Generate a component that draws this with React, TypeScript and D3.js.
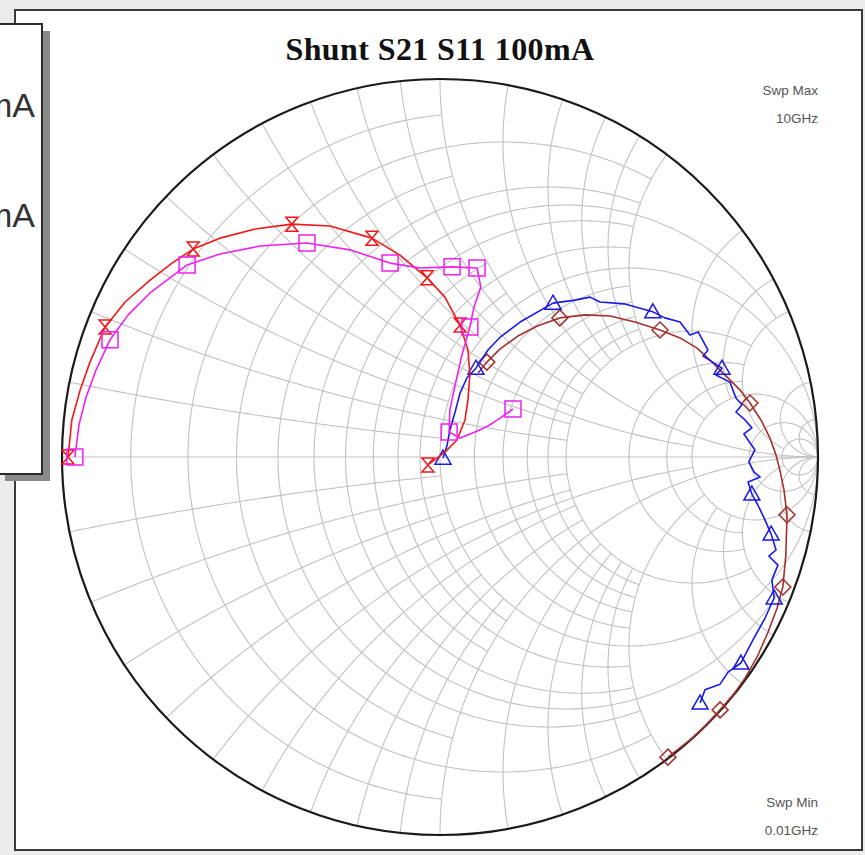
import React from "react";
import * as d3 from "d3";

// ---------- Data (reflection coefficient, real / imaginary) ----------
const redRe = [-0.984,-0.974,-0.952,-0.926,-0.886,-0.833,-0.767,-0.709,-0.653,-0.582,-0.489,-0.392,-0.291,-0.180,-0.106,-0.034,0.013,0.053,0.074,0.079,0.074,0.066,0.045,0.013,-0.032];
const redIm = [0,0.098,0.177,0.251,0.344,0.410,0.468,0.513,0.550,0.579,0.603,0.616,0.611,0.579,0.534,0.474,0.423,0.349,0.283,0.217,0.151,0.098,0.045,0.013,-0.021];
const redMarkers = [0,4,8,11,13,15,17,24];

const magRe = [-0.966,-0.955,-0.937,-0.910,-0.873,-0.825,-0.767,-0.669,-0.582,-0.476,-0.352,-0.238,-0.132,-0.053,0.032,0.098,0.108,0.090,0.079,0.058,0.040,0.026,0.024,0.053,0.093,0.127,0.159,0.193];
const magIm = [0,0.085,0.156,0.230,0.310,0.376,0.434,0.508,0.537,0.558,0.566,0.548,0.513,0.500,0.503,0.500,0.450,0.397,0.344,0.270,0.190,0.124,0.066,0.050,0.066,0.082,0.103,0.127];
const magMarkers = [0,4,7,10,12,14,15,18,22,27];

const blueRe = [0.008,0.019,0.026,0.040,0.053,0.071,0.095,0.127,0.159,0.212,0.299,0.357,0.397,0.423,0.489,0.563,0.595,0.635,0.661,0.683,0.709,0.696,0.746,0.730,0.767,0.783,0.799,0.783,0.807,0.825,0.804,0.815,0.833,0.817,0.831,0.847,0.815,0.825,0.841,0.860,0.876,0.889,0.870,0.894,0.878,0.884,0.860,0.828,0.796,0.762,0.741,0.701,0.688];
const blueIm = [-0.003,0.032,0.071,0.119,0.169,0.209,0.235,0.283,0.317,0.357,0.407,0.415,0.423,0.410,0.405,0.384,0.368,0.357,0.323,0.331,0.283,0.267,0.235,0.217,0.198,0.156,0.138,0.119,0.098,0.077,0.061,0.045,0.019,-0.013,-0.040,-0.053,-0.066,-0.098,-0.127,-0.167,-0.204,-0.246,-0.262,-0.286,-0.325,-0.373,-0.426,-0.484,-0.545,-0.569,-0.601,-0.616,-0.651];
const blueMarkers = [0,6,10,15,22,37,40,45,48,52];

const brownRe = [0.603,0.661,0.701,0.741,0.775,0.807,0.839,0.868,0.892,0.907,0.915,0.918,0.910,0.899,0.889,0.873,0.849,0.820,0.794,0.759,0.720,0.680,0.635,0.582,0.516,0.450,0.384,0.317,0.259,0.206,0.159,0.124,0.101];
const brownIm = [-0.794,-0.749,-0.712,-0.669,-0.630,-0.585,-0.529,-0.463,-0.399,-0.344,-0.259,-0.153,-0.087,-0.034,0.005,0.050,0.098,0.143,0.177,0.212,0.251,0.288,0.315,0.336,0.357,0.373,0.376,0.368,0.347,0.320,0.286,0.251,0.222];
const brownMarkers = [0,3,9,11,17,23,27,31];

// Smith chart grid values and their truncation limits
const resistanceValues = [0.1,0.2,0.3,0.4,0.5,0.6,0.7,0.8,0.9,1,1.2,1.4,1.6,1.8,2,3,4,5,10,20];
const resistanceLimit = [1,2,1,2,5,2,1,2,1,Infinity,2,2,2,2,5,5,5,Infinity,Infinity,Infinity];
const reactanceValues = [0.1,0.2,0.3,0.4,0.5,0.6,0.7,0.8,0.9,1,1.2,1.4,1.6,1.8,2,3,4,5,10,20];
const reactanceLimit = [1,2,1,2,5,2,1,2,1,Infinity,2,2,2,2,5,5,5,20,Infinity,Infinity];

const title = "Shunt S21 S11 100mA";
const legendLabels = ["S21 100mA", "S11 100mA"];
const sweepMax = ["Swp Max", "10GHz"];
const sweepMin = ["Swp Min", "0.01GHz"];

// ---------- Layout ----------
const W = 865, H = 855;
const CX = 440, CY = 457, R = 378;
const xs = d3.scaleLinear().domain([-1, 1]).range([CX - R, CX + R]);
const ys = d3.scaleLinear().domain([-1, 1]).range([CY + R, CY - R]);

function gamma(r: number, x: number): [number, number] {
  const d = (r + 1) * (r + 1) + x * x;
  return [(r * r + x * x - 1) / d, (2 * x) / d];
}

const line = d3.line<[number, number]>().x(d => xs(d[0])).y(d => ys(d[1]));

function resistancePath(r: number, xmax: number) {
  const lim = isFinite(xmax) ? Math.atan(xmax) : Math.PI / 2 - 1e-4;
  const pts: [number, number][] = d3.range(0, 301).map(i => {
    const t = -lim + (2 * lim * i) / 300;
    return gamma(r, Math.tan(t));
  });
  return line(pts) || "";
}

function reactancePath(x: number, rmax: number) {
  const lim = isFinite(rmax) ? Math.atan(rmax) : Math.PI / 2 - 1e-4;
  const pts: [number, number][] = d3.range(0, 201).map(i => {
    const t = (lim * i) / 200;
    return gamma(Math.tan(t), x);
  });
  return line(pts) || "";
}

function markerPath(kind: string) {
  if (kind === "hourglass") return "M-6,-7L6,-7L-6,7L6,7Z";
  if (kind === "square") return "M-8,-8L8,-8L8,8L-8,8Z";
  if (kind === "triangle") return "M0,-8L8,6L-8,6Z";
  return "M0,-8L8,0L0,8L-8,0Z";
}

function Trace({ re, im, idx, color, kind }: { re: number[]; im: number[]; idx: number[]; color: string; kind: string }) {
  const pts: [number, number][] = re.map((v, i) => [v, im[i]]);
  return (
    <g>
      <path d={line(pts) || ""} fill="none" stroke={color} strokeWidth={1.6} strokeLinejoin="round" />
      {idx.map(i => (
        <path key={i} d={markerPath(kind)} transform={`translate(${xs(re[i])},${ys(im[i])})`} fill="none" stroke={color} strokeWidth={1.5} />
      ))}
    </g>
  );
}

export default function App() {
  const gridColor = "#c2c2c2";
  return (
    <svg width={W} height={H} style={{ position: "absolute", left: 0, top: 0, display: "block" }}>
      <rect x={0} y={0} width={W} height={H} fill="#ececec" />
      <rect x={15} y={10} width={847} height={840} fill="#ffffff" stroke="#3a3a3a" strokeWidth={2} />

      <text x={440} y={60} textAnchor="middle" fontFamily="'Liberation Serif', 'Times New Roman', serif" fontWeight="bold" fontSize={32} letterSpacing={0.4} fill="#111">{title}</text>

      <g fontFamily="'Liberation Sans', Arial, sans-serif" fontSize={13.5} fill="#555" textAnchor="end">
        <text x={818} y={95}>{sweepMax[0]}</text>
        <text x={818} y={123}>{sweepMax[1]}</text>
        <text x={818} y={807}>{sweepMin[0]}</text>
        <text x={818} y={835}>{sweepMin[1]}</text>
      </g>

      <defs>
        <clipPath id="smithClip"><circle cx={CX} cy={CY} r={R} /></clipPath>
      </defs>
      <g clipPath="url(#smithClip)" fill="none" stroke={gridColor} strokeWidth={1.1}>
        {resistanceValues.map((r, i) => (
          <path key={"r" + i} d={resistancePath(r, resistanceLimit[i])} />
        ))}
        {reactanceValues.map((x, i) => (
          <g key={"x" + i}>
            <path d={reactancePath(x, reactanceLimit[i])} />
            <path d={reactancePath(-x, reactanceLimit[i])} />
          </g>
        ))}
        <line x1={xs(-1)} x2={xs(1)} y1={ys(0)} y2={ys(0)} />
      </g>
      <circle cx={CX} cy={CY} r={R} fill="none" stroke="#1a1a1a" strokeWidth={2.2} />

      <Trace re={brownRe} im={brownIm} idx={brownMarkers} color="#a3302c" kind="diamond" />
      <Trace re={blueRe} im={blueIm} idx={blueMarkers} color="#1a1ae6" kind="triangle" />
      <Trace re={redRe} im={redIm} idx={redMarkers} color="#f01818" kind="hourglass" />
      <Trace re={magRe} im={magIm} idx={magMarkers} color="#f020f0" kind="square" />

      <rect x={5} y={31} width={45} height={450} fill="#8a8a8a" />
      <rect x={-2} y={24} width={44} height={450} fill="#ffffff" stroke="#2a2a2a" strokeWidth={2} />
      <g fontFamily="'Liberation Sans', Arial, sans-serif" fontSize={34} fill="#333" textAnchor="end">
        <text x={35} y={117}>{legendLabels[0]}</text>
        <text x={35} y={227}>{legendLabels[1]}</text>
      </g>
    </svg>
  );
}
